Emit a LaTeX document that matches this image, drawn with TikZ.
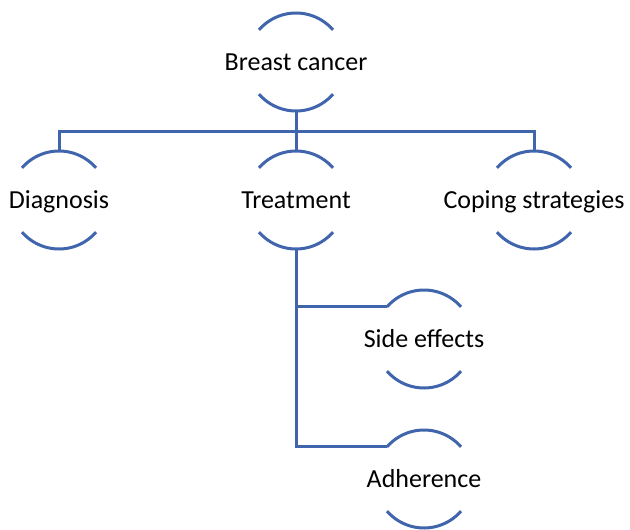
\documentclass[tikz,border=0pt]{standalone}
\usepackage{fontspec}
\setmainfont{Carlito}
\usepackage{tikz}
\definecolor{LienBleu}{RGB}{64, 101, 172}

\begin{document}
\begin{tikzpicture}[x=1pt, y=-1pt]

      \tikzstyle{Topic}=[inner sep=0pt, text height=19pt, text depth=3pt, font=\fontsize{26}{30}\selectfont, text=black];
      \tikzstyle{Arc}=[line width=3pt, draw=LienBleu];
      \tikzstyle{Link}=[line width=3pt, draw=LienBleu];

      \useasboundingbox (0,0) rectangle (630,530);

        \node[Topic](Breast) at (296, 62) {Breast cancer};
        \node[Topic](Diagnosis) at (59, 200) {Diagnosis};
        \node[Topic](Treatment) at (296, 200) {Treatment};
        \node[Topic](Coping) at (534, 200) {Coping strategies};
        \node[Topic](Side) at (424, 339) {Side effects};
        \node[Topic](Adherence) at (424, 479) {Adherence};

        % arcs above and below each topic
        \foreach \n in {Breast, Diagnosis, Treatment, Coping, Side, Adherence} {
          \draw[Arc] ([shift={(-41:49pt)}]\n.center) arc[start angle=-41, end angle=-139, radius=49pt];
          \draw[Arc] ([shift={(41:49pt)}]\n.center) arc[start angle=41, end angle=139, radius=49pt];
        }

        \draw[Link] ([yshift=-49pt]Breast.center) -- ++(0, 20) -| ([yshift=49pt]Diagnosis.center);
        \draw[Link] ([yshift=-49pt]Breast.center) -- ([yshift=49pt]Treatment.center);
        \draw[Link] ([yshift=-49pt]Breast.center) -- ++(0, 20) -| ([yshift=49pt]Coping.center);

        \draw[Link] ([yshift=-49pt]Treatment.center) |- ([shift={(139:49pt)}]Side.center);
        \draw[Link] ([yshift=-49pt]Treatment.center) |- ([shift={(139:49pt)}]Adherence.center);

    \end{tikzpicture}
\end{document}
